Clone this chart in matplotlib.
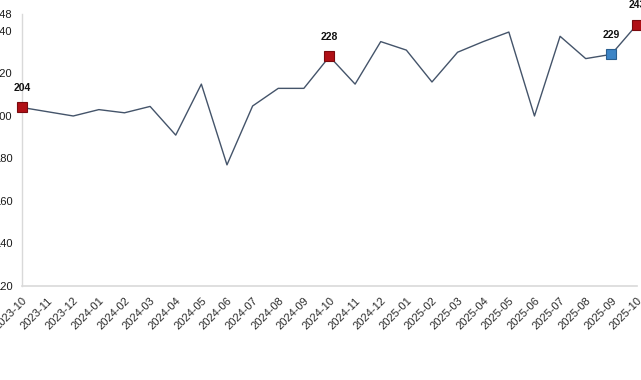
import matplotlib.pyplot as plt

# monthly values
months = ['2023-10', '2023-11', '2023-12', '2024-01', '2024-02', '2024-03',
          '2024-04', '2024-05', '2024-06', '2024-07', '2024-08', '2024-09',
          '2024-10', '2024-11', '2024-12', '2025-01', '2025-02', '2025-03',
          '2025-04', '2025-05', '2025-06', '2025-07', '2025-08', '2025-09',
          '2025-10']
values = [204, 202, 200, 203, 201.5, 204.5, 191, 215, 177, 204.7, 213, 213,
          228, 215, 235, 231, 216, 230, 235, 239.5, 200, 237.5, 227, 229, 243]

# highlighted points
red_idx = [0, 12, 24]
blue_idx = [23]

y_ticks = [120, 140, 160, 180, 200, 220, 240, 248]

plt.rcParams['font.family'] = ['Liberation Sans', 'DejaVu Sans']

fig = plt.figure(figsize=(6.41, 3.8), dpi=100)
ax = fig.add_axes([0.0343, 0.2474, 0.9594, 0.7158])

x = list(range(len(months)))
ax.plot(x, values, color='#44546a', linewidth=1.0, zorder=2)

for idx, face, edge in [(red_idx, '#b01016', '#7a0a0e'), (blue_idx, '#3d85c6', '#2a5f90')]:
    for i in idx:
        ax.plot(i, values[i], marker='s', markersize=7.5, color=face,
                markeredgecolor=edge, markeredgewidth=0.8, clip_on=False, zorder=3)
        ax.annotate(f'{values[i]:.0f}', (i, values[i]), xytext=(0, 14),
                    textcoords='offset points', ha='center', va='center',
                    fontsize=7.5, fontweight='bold', color='#111111',
                    annotation_clip=False)

ax.set_xlim(0, len(months) - 1)
ax.set_ylim(120, 248)
ax.set_yticks(y_ticks)
ax.set_yticklabels([str(t) for t in y_ticks])
ax.set_xticks(x)
ax.set_xticklabels(months, rotation=45, ha='right', rotation_mode='anchor')

ax.tick_params(axis='y', length=0, pad=7, labelsize=8, labelcolor='#1a1a1a')
ax.tick_params(axis='x', length=0, pad=7, labelsize=8, labelcolor='#2a2a2a')

for side in ['top', 'right']:
    ax.spines[side].set_visible(False)
ax.spines['left'].set_color('#d9d9d9')
ax.spines['bottom'].set_color('#d9d9d9')
ax.spines['left'].set_linewidth(1)
ax.spines['bottom'].set_linewidth(1.2)

plt.savefig('out.png', dpi=100)
